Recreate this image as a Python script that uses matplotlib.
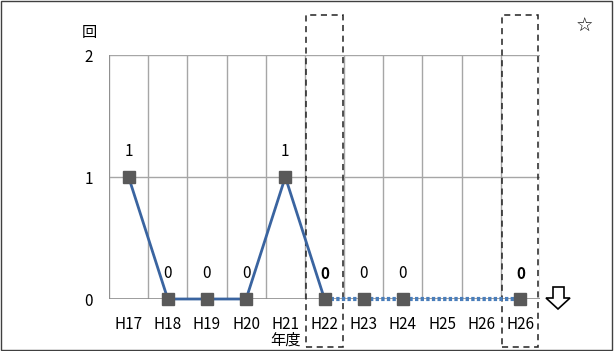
import matplotlib
matplotlib.use('Agg')
import matplotlib.pyplot as plt
from matplotlib.patches import Rectangle, Polygon
from matplotlib.transforms import blended_transform_factory

plt.rcParams['font.family'] = ['Noto Sans CJK JP', 'DejaVu Sans']

categories = ['H17', 'H18', 'H19', 'H20', 'H21', 'H22', 'H23', 'H24', 'H25', 'H26', 'H26']
actual_values = [1, 0, 0, 0, 1, 0]          # H17..H22, solid line
target_values = [0, 0, 0, 0, 0, 0]          # H22..H26(last), dotted line
marker_idx = [0, 1, 2, 3, 4, 5, 6, 7, 10]
marker_values = [1, 0, 0, 0, 1, 0, 0, 0, 0]
bold_idx = [5, 10]
boxed_idx = [5, 10]

fig = plt.figure(figsize=(6.14, 3.51), dpi=100)
ax = fig.add_axes([109 / 614, (351 - 299) / 351, (540 - 109) / 614, (299 - 55) / 351])

n = len(categories)
ax.set_xlim(-0.5, n - 0.5)
ax.set_ylim(0, 2)

# grid
for i in range(n + 1):
    ax.axvline(i - 0.5, color='#a6a6a6', lw=1.0, zorder=0)
for y in [1, 2]:
    ax.axhline(y, color='#a6a6a6', lw=1.0, zorder=0)
ax.axhline(0, color='#8c8c8c', lw=1.2, zorder=0)
ax.axvline(-0.5, color='#8c8c8c', lw=1.2, zorder=0)
for s in ax.spines.values():
    s.set_visible(False)

ax.plot(range(0, 6), actual_values, color='#3a64a0', lw=2.0, zorder=2, clip_on=False)
ax.plot(range(5, 11), target_values, color='#4a7ebb', lw=3.0, ls=(0, (0.8, 0.55)),
        zorder=2, clip_on=False)
ax.plot(marker_idx, marker_values, ls='none', marker='s', ms=8.5,
        color='#595959', zorder=3, clip_on=False)

for i, v in zip(marker_idx, marker_values):
    ax.annotate(str(v), (i, v), xytext=(0, 18), textcoords='offset points',
                ha='center', va='center', fontsize=11,
                fontweight='bold' if i in bold_idx else 'normal')

ax.set_xticks(range(n))
ax.set_xticklabels(categories, fontsize=11)
ax.set_yticks([0, 1, 2])
ax.set_yticklabels(['0', '1', '2'], fontsize=11)
ax.tick_params(length=0)
ax.tick_params(axis='x', pad=12)
ax.tick_params(axis='y', pad=11.5)

fig.text(89 / 614, 1 - 33 / 351, '回', ha='center', va='center', fontsize=11)
ax.text(4, -0.34, '年度', transform=ax.transData, ha='center', va='center', fontsize=11)
fig.text(584 / 614, 1 - 26 / 351, '☆', ha='center', va='center', fontsize=14,
         family='DejaVu Sans')

# hollow down arrow right of the plot
arrow_px = [(553, 287), (564, 287), (564, 298), (570, 298), (558, 309),
            (546, 298), (553, 298)]
arrow = [(x / 614, 1 - y / 351) for x, y in arrow_px]
fig.patches.append(Polygon(arrow, closed=True, transform=fig.transFigure,
                           fc='white', ec='black', lw=1.2))

trans = blended_transform_factory(ax.transData, fig.transFigure)
for i in boxed_idx:
    ax.add_patch(Rectangle((i - 0.46, 4 / 351), 0.92, (347 - 15) / 351, transform=trans,
                           fill=False, ls=(0, (4, 3)), lw=1.1, ec='#222222', clip_on=False))

fig.patches.append(Rectangle((0.002, 0.003), 0.995, 0.994, transform=fig.transFigure,
                             fill=False, ec='#404040', lw=1.0))

fig.savefig('out.png', dpi=100)
